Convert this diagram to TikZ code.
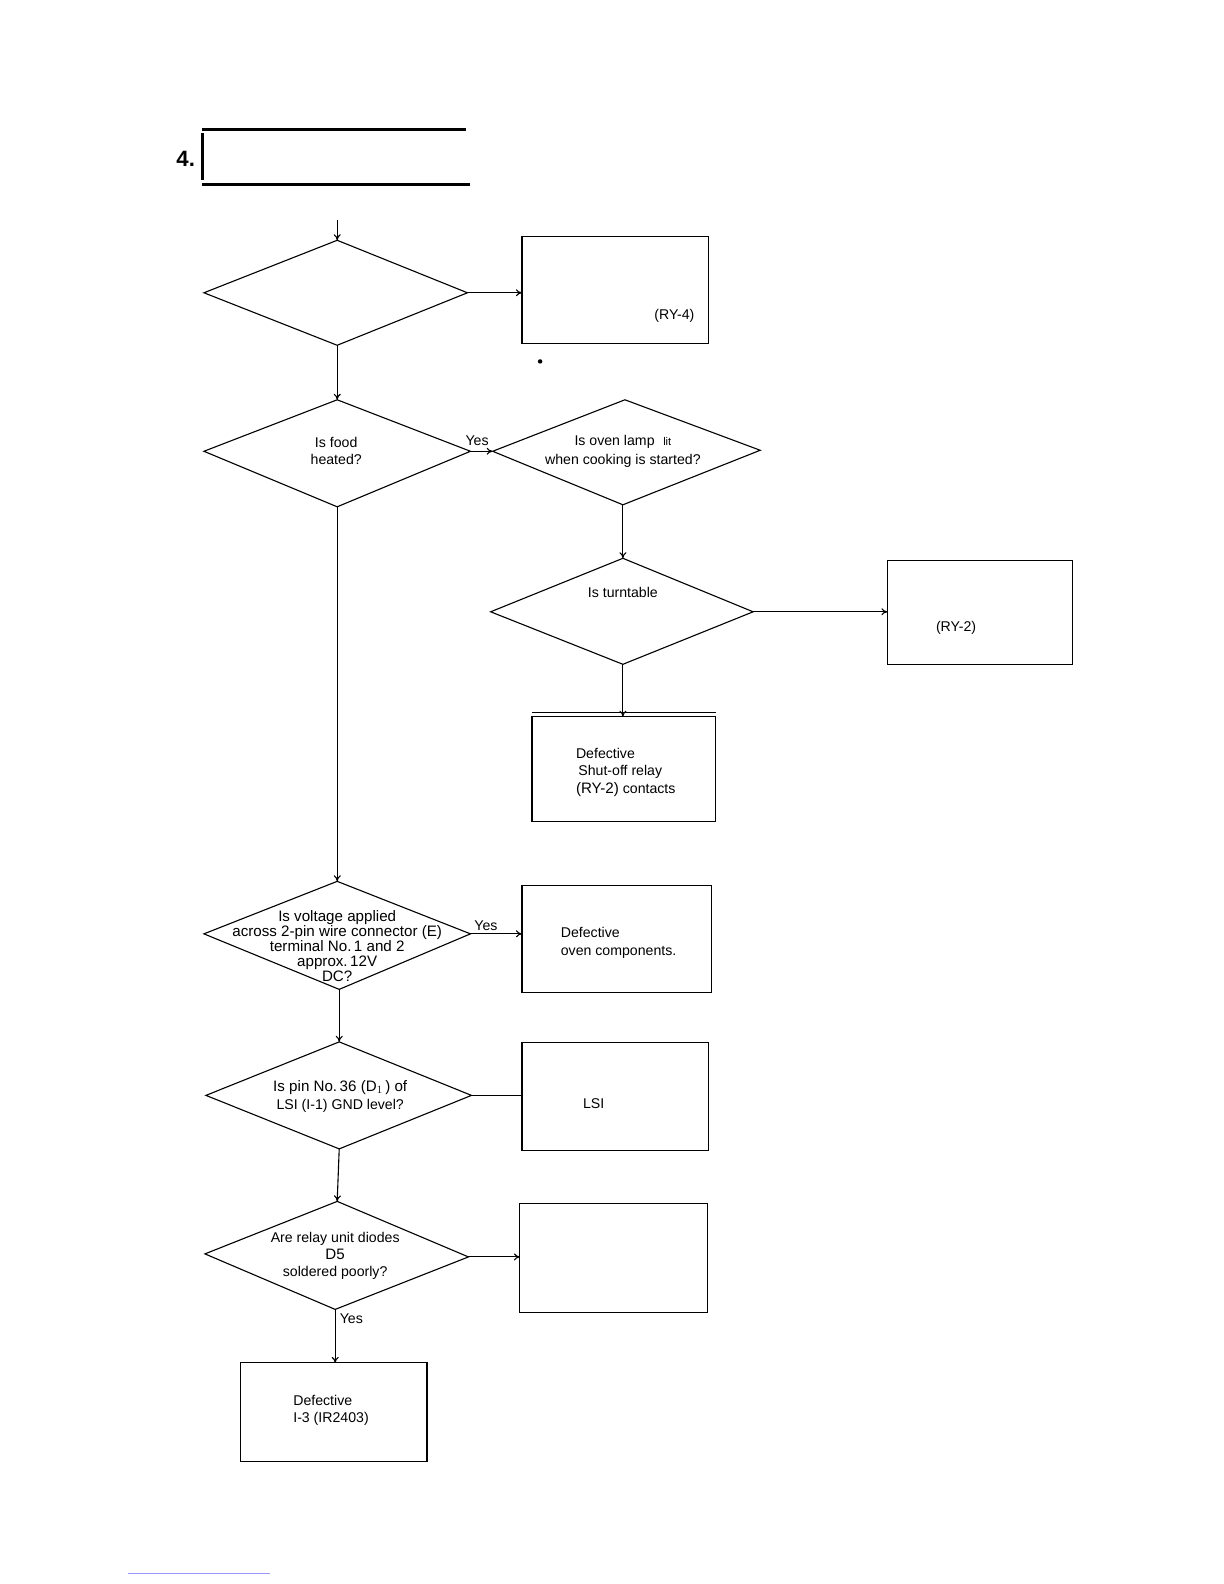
\documentclass[tikz,border=0pt]{standalone}
\usepackage{fontspec}
\setmainfont{Liberation Sans}
\usetikzlibrary{arrows.meta}
\begin{document}
\begin{tikzpicture}[x=1pt,y=-1pt,
  line width=1.1pt,
  arr/.style={-{To[length=6pt,width=7pt]}},
  dia/.style={draw,line width=1.1pt},
  box/.style={draw,line width=1.1pt},
  lbl/.style={font=\fontsize{14}{16}\selectfont,inner sep=0pt},
  blbl/.style={font=\fontsize{15}{15}\selectfont,inner sep=0pt,align=center}]
\useasboundingbox (0,0) rectangle (1212.4,1569);
% title
\node[font=\bfseries\fontsize{22}{26}\selectfont,inner sep=0pt] (t4) at (184,157) {4.};
\draw[line width=3pt] (200,128) -- (462,128);
\draw[line width=3pt] (201,132) -- (201,178);
\draw[line width=3pt] (200,183) -- (466,183);
% D1
\coordinate (in) at (334,218);
\draw[dia] (334,238) coordinate (d1t) -- (463,290) coordinate (d1r) -- (334,342) coordinate (d1b) -- (202,290) coordinate (d1l) -- cycle;
\draw[box] (517,234) rectangle (702,340);
\coordinate (b1l) at (517,290);
\node[lbl] (ry4) at (668,313) {(RY-4)};
\fill (535,358) circle (2.2pt);
% D2
\draw[dia] (334,396) coordinate (d2t) -- (466,447) coordinate (d2r) -- (334,502) coordinate (d2b) -- (202,447) coordinate (d2l) -- cycle;
\node[lbl,align=center] (d2txt) at (333,447) {Is food\\[1pt]heated?};
% D3
\draw[dia] (619,396) coordinate (d3t) -- (753,446) coordinate (d3r) -- (617,500) coordinate (d3b) -- (488,447) coordinate (d3l) -- cycle;
\node[lbl,align=center] (d3txt) at (617,447) {Is oven lamp\,\, {\fontsize{11}{12}\selectfont lit}\\[2pt]when cooking is started?};
% D4
\draw[dia] (617,553) coordinate (d4t) -- (746,606) coordinate (d4r) -- (617,658) coordinate (d4b) -- (486,606) coordinate (d4l) -- cycle;
\node[lbl] (d4txt) at (617,587) {Is turntable};
\draw[box] (879,555) rectangle (1062,658);
\coordinate (b2l) at (879,606);
\node[lbl] (ry2) at (947,622) {(RY-2)};
% B3
\draw[box] (527,710) rectangle (709,814);
\draw[line width=0.7pt] (527,706) -- (709,706);
\coordinate (b3t) at (617,710);
\node[lbl,align=left,anchor=west] (b3txt) at (570,765) {Defective\\[1pt]\,Shut-off relay\\[1pt]{\fontsize{15}{16}\selectfont(RY-2)} contacts};
% D5
\draw[dia] (334,873) coordinate (d5t) -- (466,925) coordinate (d5r) -- (336,980) coordinate (d5b) -- (202,925) coordinate (d5l) -- cycle;
\node[blbl] (d5txt) at (334,937) {Is voltage applied\\across 2-pin wire connector (E)\\terminal No.\,1 and 2\\approx.\,12V\\DC?};
\draw[box] (517,877) rectangle (705,983);
\coordinate (b4l) at (517,925);
\node[lbl,align=left,anchor=west] (b4txt) at (555,934) {Defective\\[2pt]oven components.};
% D6
\draw[dia] (336,1032) coordinate (d6t) -- (467,1085) coordinate (d6r) -- (336,1138) coordinate (d6b) -- (204,1085) coordinate (d6l) -- cycle;
\node[lbl,align=center] (d6txt) at (337,1086) {{\fontsize{15}{16}\selectfont Is pin No.\,36 (D$_1$\,) of}\\[2pt]LSI (I-1) GND level?};
\draw[box] (517,1033) rectangle (702,1140);
\coordinate (b5l) at (517,1085);
\node[lbl] (lsi) at (588,1093) {LSI};
% D7
\draw[dia] (334,1190) coordinate (d7t) -- (464,1245) coordinate (d7r) -- (332,1297) coordinate (d7b) -- (203,1242) coordinate (d7l) -- cycle;
\node[lbl,align=center] (d7txt) at (332,1244) {Are relay unit diodes\\[1pt]{\fontsize{15}{16}\selectfont D5}\\[1pt]soldered poorly?};
\draw[box] (515,1192) rectangle (701,1300);
\coordinate (b6l) at (515,1245);
% B7
\draw[box] (238,1350) rectangle (423,1448);
\coordinate (b7t) at (332,1350);
\node[lbl,align=left,anchor=west] (b7txt) at (290,1397) {Defective\\[1pt]I-3 (IR2403)};
% bottom faint line
\draw[line width=0.8pt,blue!40] (127,1558) -- (267,1558);
% connectors
\draw[arr] (in) -- (d1t);
\draw[arr] (d1r) -- (b1l);
\draw[arr] (d1b) -- (d2t);
\draw[arr] (d2r) -- node[lbl,above=5pt,pos=0.3] {Yes} (d3l);
\draw[arr] (d3b) -- (d4t);
\draw[arr] (d4r) -- (b2l);
\draw[arr] (d4b) -- (b3t);
\draw[arr] (d2b) -- (d5t);
\draw[arr] (d5r) -- node[lbl,above=3pt,pos=0.3] {Yes} (b4l);
\draw[arr] (d5b) -- (d6t);
\draw (d6r) -- (b5l);
\draw[arr] (d6b) -- (334,1190);
\draw[arr] (d7r) -- (b6l);
\draw[arr] (d7b) -- node[lbl,right=4pt,pos=0.18] {Yes} (b7t);
\end{tikzpicture}
\end{document}
